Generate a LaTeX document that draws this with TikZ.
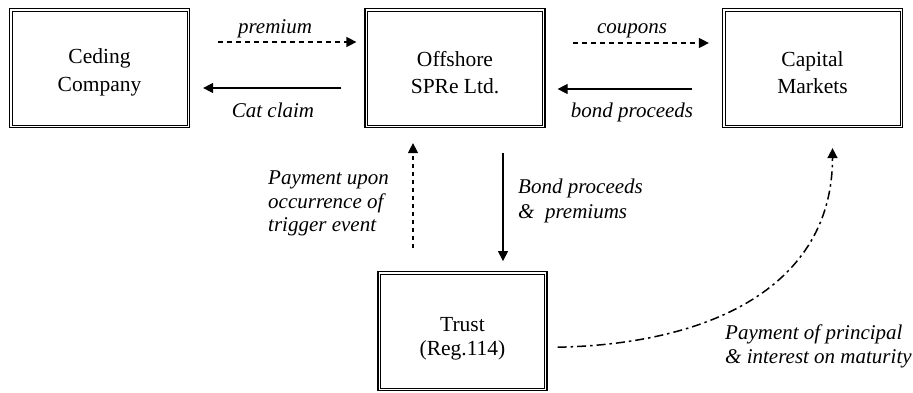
\documentclass[tikz,border=0pt]{standalone}
\usepackage{fontspec}
\setmainfont{Liberation Serif}
\usetikzlibrary{positioning,arrows.meta}
\definecolor{ink}{HTML}{000000}
\newcommand{\upstrut}[1]{\rule{0pt}{#1}}
\tikzset{
  party/.style={draw=ink, line width=1.2bp,
    path picture={\draw[ink, line width=0.8bp]
      ([shift={(2.6bp,2.6bp)}]path picture bounding box.south west) rectangle
      ([shift={(-2.6bp,-2.6bp)}]path picture bounding box.north east);},
    minimum width=180bp, minimum height=119bp, align=center, inner sep=4pt,
    font=\fontsize{21.5bp}{27.5bp}\selectfont, text=ink},
  arr/.style={-{Triangle[length=10bp,width=10bp]}, line width=1.2bp, color=ink},
  dsh/.style={dash pattern=on 5bp off 4bp},
  dashdot/.style={dash pattern=on 9bp off 4bp on 2.5bp off 4bp, line width=1.5bp},
  lab/.style={font=\fontsize{21bp}{23.5bp}\selectfont\itshape, text=ink, inner sep=0pt},
  mlab/.style={lab, align=left, anchor=north west},
}

\begin{document}
\begin{tikzpicture}[x=1bp, y=1bp]
    \useasboundingbox (0,0) rectangle (913,392);
    % the four parties
    \node[party] (ced) at (99.5,324) {\upstrut{24bp}Ceding\\Company};
    \node[party] (off) at (455,324) {\upstrut{24bp}Offshore\\SPRe Ltd.};
    \node[party] (cap) at (812.5,324) {\upstrut{24bp}Capital\\Markets};
    \node[party, minimum width=169bp, font=\fontsize{21.5bp}{24bp}\selectfont,
      below=143bp of off, xshift=7.5bp] (trust) {\upstrut{29bp}Trust\\(Reg.114)};
    % flows along the top
    \draw[arr, dsh, shorten <=28bp, shorten >=8bp] ([yshift=26bp]ced.east) -- ([yshift=26bp]off.west);
    \draw[arr, shorten <=23bp, shorten >=13bp] ([yshift=-20bp]off.west) -- ([yshift=-20bp]ced.east);
    \draw[arr, dsh, shorten <=27bp, shorten >=13bp] ([yshift=25bp]off.east) -- ([yshift=25bp]cap.west);
    \draw[arr, shorten <=30bp, shorten >=12bp] ([yshift=-21bp]cap.west) -- ([yshift=-21bp]off.east);
    \node[lab, anchor=base] (premium) at (275,359) {premium};
    \node[lab, anchor=base] (catclaim) at (273,275) {Cat claim};
    \node[lab, anchor=base] (coupons) at (632,359) {coupons};
    \node[lab, anchor=base] (proceeds) at (632,275) {bond proceeds};
    % flows between SPRe and the trust
    \draw[arr, dash pattern=on 4bp off 4bp, shorten <=23bp, shorten >=15bp]
      ([xshift=-42bp]off.south |- trust.north) -- ([xshift=-42bp]off.south);
    \draw[arr, shorten <=25bp, shorten >=10bp]
      ([xshift=48bp]off.south) -- ([xshift=48bp]off.south |- trust.north);
    \node[mlab] (trigger) at (268,221) {Payment upon\\occurrence of\\trigger event};
    \node[mlab, font=\fontsize{21bp}{25bp}\selectfont\itshape] (deposit) at (518,213) {Bond proceeds\\\&\ \ premiums};
    % maturity payment
    \draw[arr, dashdot] ([shift={(10bp,-16bp)}]trust.east)
      .. controls +(153bp,3bp) and +(0bp,-138bp) .. ([shift={(20bp,-20bp)}]cap.south);
    \node[mlab] (maturity) at (725,67) {Payment of principal\\\& interest on maturity};
\end{tikzpicture}
\end{document}
